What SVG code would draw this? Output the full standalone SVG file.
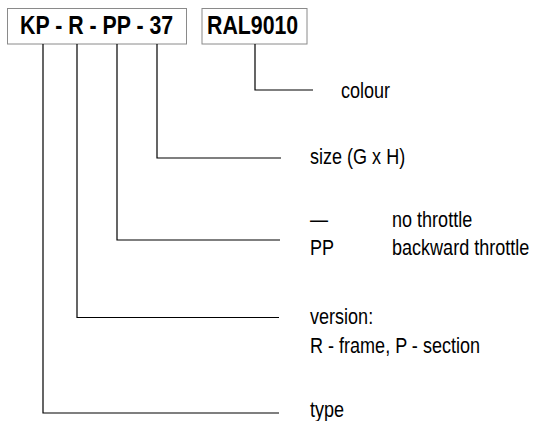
<svg xmlns="http://www.w3.org/2000/svg" width="559" height="421" viewBox="0 0 559 421">
<style>
.box{fill:#fff;stroke:#8a8a8a;stroke-width:1}
.code{font-family:"Liberation Sans",Arial,sans-serif;font-weight:bold;font-size:26px;fill:#000}
.lbl{font-family:"Liberation Sans",Arial,sans-serif;font-size:22px;fill:#000}
.conn{fill:none;stroke:#000;stroke-width:1.2}
</style>
<rect width="559" height="421" fill="#fff"/>
<g id="code-box">
<rect class="box" x="7.5" y="8.5" width="179" height="35.5"/>
<text class="code" transform="translate(20,33.5) scale(0.82,1)">KP - R - PP - 37</text>
</g>
<g id="colour-box">
<rect class="box" x="202" y="8.5" width="105" height="35.5"/>
<text class="code" transform="translate(207,33.5) scale(0.82,1)">RAL9010</text>
</g>
<g id="connectors">
<path class="conn" d="M255,44 V90 H313"/>
<path class="conn" d="M157,44 V158 H281"/>
<path class="conn" d="M117,44 V240 H280"/>
<path class="conn" d="M77,44 V317.5 H279"/>
<path class="conn" d="M43,44 V413 H279"/>
</g>
<g id="label-colour"><text class="lbl" transform="translate(341,98) scale(0.82,1)">colour</text></g>
<g id="label-size"><text class="lbl" transform="translate(310,164) scale(0.82,1)">size (G x H)</text></g>
<g id="label-throttle">
<text class="lbl" transform="translate(310,227) scale(0.82,1)">—</text>
<text class="lbl" transform="translate(392,227) scale(0.82,1)">no throttle</text>
<text class="lbl" transform="translate(310,255) scale(0.82,1)">PP</text>
<text class="lbl" transform="translate(392,255) scale(0.82,1)">backward throttle</text>
</g>
<g id="label-version">
<text class="lbl" transform="translate(310,324) scale(0.82,1)">version:</text>
<text class="lbl" transform="translate(310,353) scale(0.82,1)">R - frame, P - section</text>
</g>
<g id="label-type"><text class="lbl" transform="translate(310,417) scale(0.82,1)">type</text></g>
</svg>
